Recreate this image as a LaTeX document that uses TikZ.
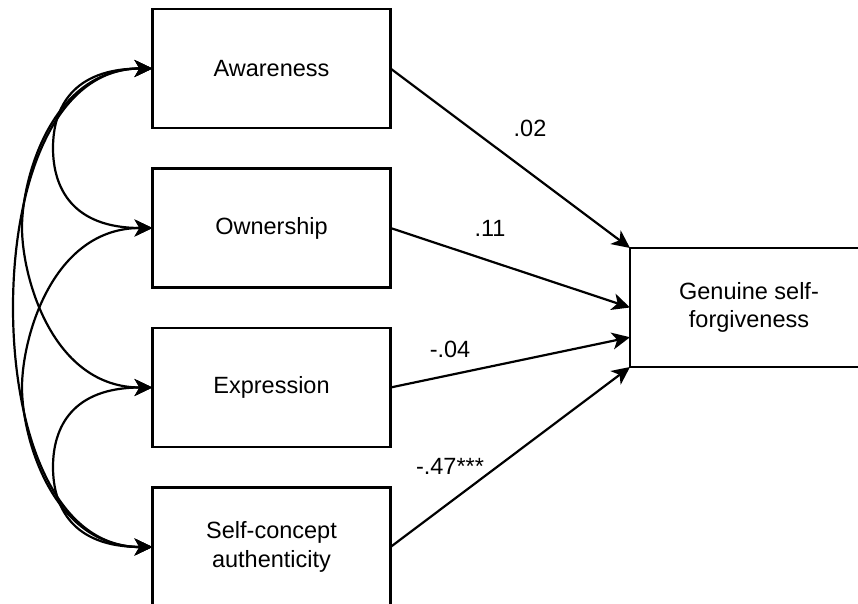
\documentclass[tikz,border=0pt]{standalone}
\usepackage{fontspec}
\setmainfont{Liberation Sans}
\usetikzlibrary{arrows.meta,calc}
\begin{document}
\begin{tikzpicture}[x=1pt,y=-1pt,
  every node/.style={font=\fontsize{23.5}{28.5}\selectfont},
  varbox/.style={draw, line width=2.2pt, minimum width=238pt, minimum height=119pt,
    inner sep=0pt, outer sep=0pt, align=center},
  regline/.style={line width=2.2pt, -{Stealth[length=18pt,width=17pt,inset=5pt]}},
  covline/.style={line width=2.2pt,
    {Stealth[length=18pt,width=17pt,inset=5pt]}-{Stealth[length=18pt,width=17pt,inset=5pt]}},
  coef/.style={inner sep=0pt}
]
\useasboundingbox (0,0) rectangle (858,604);

% predictors and outcome
\node[varbox] (aw) at (271.5,68.5) {Awareness};
\node[varbox] (ow) at (271.5,228) {Ownership};
\node[varbox] (ex) at (271.5,387.5) {Expression};
\node[varbox] (sc) at (271.5,547) {Self-concept\\authenticity};
\node[varbox] (gs) at (749,307.5) {Genuine self-\\forgiveness};

% regression paths
\draw[regline] (aw.east) -- (gs.north west);
\draw[regline] (ow.east) -- (gs.west);
\draw[regline] (ex.east) -- ($(gs.south west)!0.25!(gs.north west)$);
\draw[regline] (sc.east) -- (gs.south west);

% path coefficients
\node[coef] (c1) at (530,128) {.02};
\node[coef] (c2) at (490,228) {.11};
\node[coef] (c3) at (450,349) {-.04};
\node[coef] (c4) at (450,466) {-.47***};

% turning points of the covariance curves
\coordinate (kAO) at (53,148);
\coordinate (kAE) at (22,227.5);
\coordinate (kAS) at (13,307.5);
\coordinate (kOS) at (22,387.5);
\coordinate (kES) at (53,467);

% covariances between predictors
\draw[covline] (aw.west) .. controls +(-80,0) and +(0,-40) .. (kAO)
  .. controls +(0,40) and +(-80,0) .. (ow.west);
\draw[covline] (aw.west) .. controls +(-100,0) and +(0,-50) .. (kAE)
  .. controls +(0,50) and +(-100,0) .. (ex.west);
\draw[covline] (aw.west) .. controls +(-100,0) and +(0,-120) .. (kAS)
  .. controls +(0,120) and +(-100,0) .. (sc.west);
\draw[covline] (ow.west) .. controls +(-100,0) and +(0,-50) .. (kOS)
  .. controls +(0,50) and +(-100,0) .. (sc.west);
\draw[covline] (ex.west) .. controls +(-80,0) and +(0,-40) .. (kES)
  .. controls +(0,40) and +(-80,0) .. (sc.west);
\end{tikzpicture}
\end{document}
